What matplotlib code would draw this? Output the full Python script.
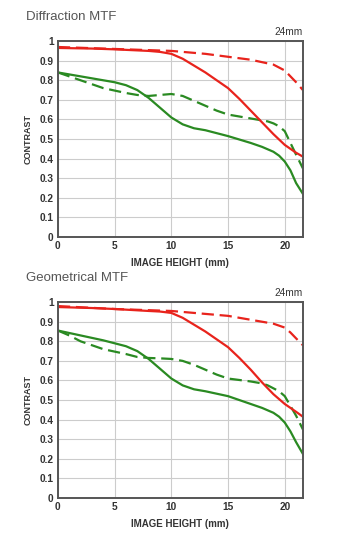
import matplotlib
matplotlib.use("Agg")
import matplotlib.pyplot as plt

plt.rcParams["font.family"] = ["Liberation Sans", "DejaVu Sans"]

RED = "#e8231c"
GREEN = "#2a8a22"

# Diffraction MTF
dif_red_solid_x = [0, 3, 5, 8, 9, 10, 11, 12, 13, 14, 15, 16, 17, 18, 19, 20, 21, 21.6]
dif_red_solid_y = [0.965, 0.962, 0.958, 0.95, 0.945, 0.935, 0.91, 0.875, 0.84, 0.80, 0.76, 0.705, 0.645, 0.585, 0.525, 0.47, 0.43, 0.41]
dif_red_dash_x = [0, 5, 10, 13, 15, 17, 19, 20, 20.5, 21, 21.6]
dif_red_dash_y = [0.97, 0.96, 0.95, 0.935, 0.92, 0.905, 0.88, 0.85, 0.82, 0.79, 0.75]
dif_green_solid_x = [0, 2, 4, 5, 6, 7, 8, 9, 10, 11, 12, 13, 15, 17, 18, 19, 19.5, 20, 20.5, 21, 21.6]
dif_green_solid_y = [0.84, 0.82, 0.80, 0.79, 0.775, 0.75, 0.71, 0.66, 0.61, 0.575, 0.555, 0.545, 0.515, 0.48, 0.46, 0.435, 0.415, 0.385, 0.34, 0.275, 0.22]
dif_green_dash_x = [0, 1, 2, 4, 6, 7, 8, 9, 10, 11, 12, 13, 14, 15, 17, 18, 18.5, 19, 19.5, 20, 20.5, 21, 21.6]
dif_green_dash_y = [0.84, 0.82, 0.80, 0.76, 0.735, 0.725, 0.72, 0.725, 0.73, 0.72, 0.695, 0.67, 0.645, 0.625, 0.605, 0.595, 0.59, 0.58, 0.565, 0.54, 0.48, 0.42, 0.35]

# Geometrical MTF
geo_red_solid_x = [0, 3, 5, 8, 9, 10, 11, 12, 13, 14, 15, 16, 17, 18, 19, 20, 21, 21.6]
geo_red_solid_y = [0.975, 0.97, 0.965, 0.955, 0.952, 0.945, 0.92, 0.885, 0.85, 0.81, 0.77, 0.715, 0.655, 0.59, 0.53, 0.48, 0.44, 0.415]
geo_red_dash_x = [0, 5, 10, 13, 15, 17, 19, 20, 20.5, 21, 21.6]
geo_red_dash_y = [0.98, 0.965, 0.955, 0.94, 0.93, 0.91, 0.89, 0.87, 0.845, 0.815, 0.78]
geo_green_solid_x = [0, 2, 4, 5, 6, 7, 8, 9, 10, 11, 12, 13, 15, 17, 18, 19, 19.5, 20, 20.5, 21, 21.6]
geo_green_solid_y = [0.855, 0.83, 0.805, 0.79, 0.775, 0.75, 0.71, 0.66, 0.61, 0.575, 0.555, 0.545, 0.52, 0.48, 0.46, 0.435, 0.415, 0.385, 0.34, 0.285, 0.225]
geo_green_dash_x = [0, 1, 2, 4, 6, 7, 8, 9, 10, 11, 12, 13, 14, 15, 17, 18, 18.5, 19, 19.5, 20, 20.5, 21, 21.6]
geo_green_dash_y = [0.855, 0.83, 0.80, 0.76, 0.735, 0.72, 0.715, 0.713, 0.71, 0.70, 0.68, 0.655, 0.63, 0.61, 0.595, 0.585, 0.575, 0.56, 0.545, 0.52, 0.47, 0.42, 0.35]

x_ticks = [0, 5, 10, 15, 20]
y_ticks = [0, 0.1, 0.2, 0.3, 0.4, 0.5, 0.6, 0.7, 0.8, 0.9, 1.0]
y_tick_labels = ["0", "0.1", "0.2", "0.3", "0.4", "0.5", "0.6", "0.7", "0.8", "0.9", "1"]

panels = [
    ("Diffraction MTF", [0.562, 0.362],
     (dif_red_solid_x, dif_red_solid_y), (dif_red_dash_x, dif_red_dash_y),
     (dif_green_solid_x, dif_green_solid_y), (dif_green_dash_x, dif_green_dash_y)),
    ("Geometrical MTF", [0.0795, 0.362],
     (geo_red_solid_x, geo_red_solid_y), (geo_red_dash_x, geo_red_dash_y),
     (geo_green_solid_x, geo_green_solid_y), (geo_green_dash_x, geo_green_dash_y)),
]

fig = plt.figure(figsize=(3.51, 5.41), dpi=100)

for title, (bottom, height), rs, rd, gs, gd in panels:
    ax = fig.add_axes([0.165, bottom, 0.698, height])
    dash = (0, (5.5, 2.6))
    ax.plot(*gd, color=GREEN, lw=1.6, ls=dash)
    ax.plot(*gs, color=GREEN, lw=1.6)
    ax.plot(*rd, color=RED, lw=1.6, ls=dash)
    ax.plot(*rs, color=RED, lw=1.6)
    ax.set_xlim(0, 21.6)
    ax.set_ylim(0, 1)
    ax.set_xticks(x_ticks)
    ax.set_yticks(y_ticks)
    ax.set_yticklabels(y_tick_labels)
    ax.grid(True, color="#cccccc", lw=0.8)
    ax.set_axisbelow(True)
    ax.tick_params(length=0, labelsize=7.3, colors="#333333", pad=3)
    for lab in ax.get_xticklabels() + ax.get_yticklabels():
        lab.set_fontweight("bold")
    for sp in ax.spines.values():
        sp.set_color("#555555")
        sp.set_linewidth(1.4)
    ax.set_xlabel("IMAGE HEIGHT (mm)", fontsize=7, fontweight="bold", color="#333333", labelpad=5)
    ax.set_ylabel("CONTRAST", fontsize=6.5, fontweight="bold", color="#333333", labelpad=5)
    ax.text(1.0, 1.02, "24mm", transform=ax.transAxes, ha="right", va="bottom",
            fontsize=7.3, color="#333333")
    fig.text(0.074, bottom + height + 0.034, title, fontsize=9.5, color="#555555",
             ha="left", va="bottom")

fig.savefig("out.png", dpi=100)
